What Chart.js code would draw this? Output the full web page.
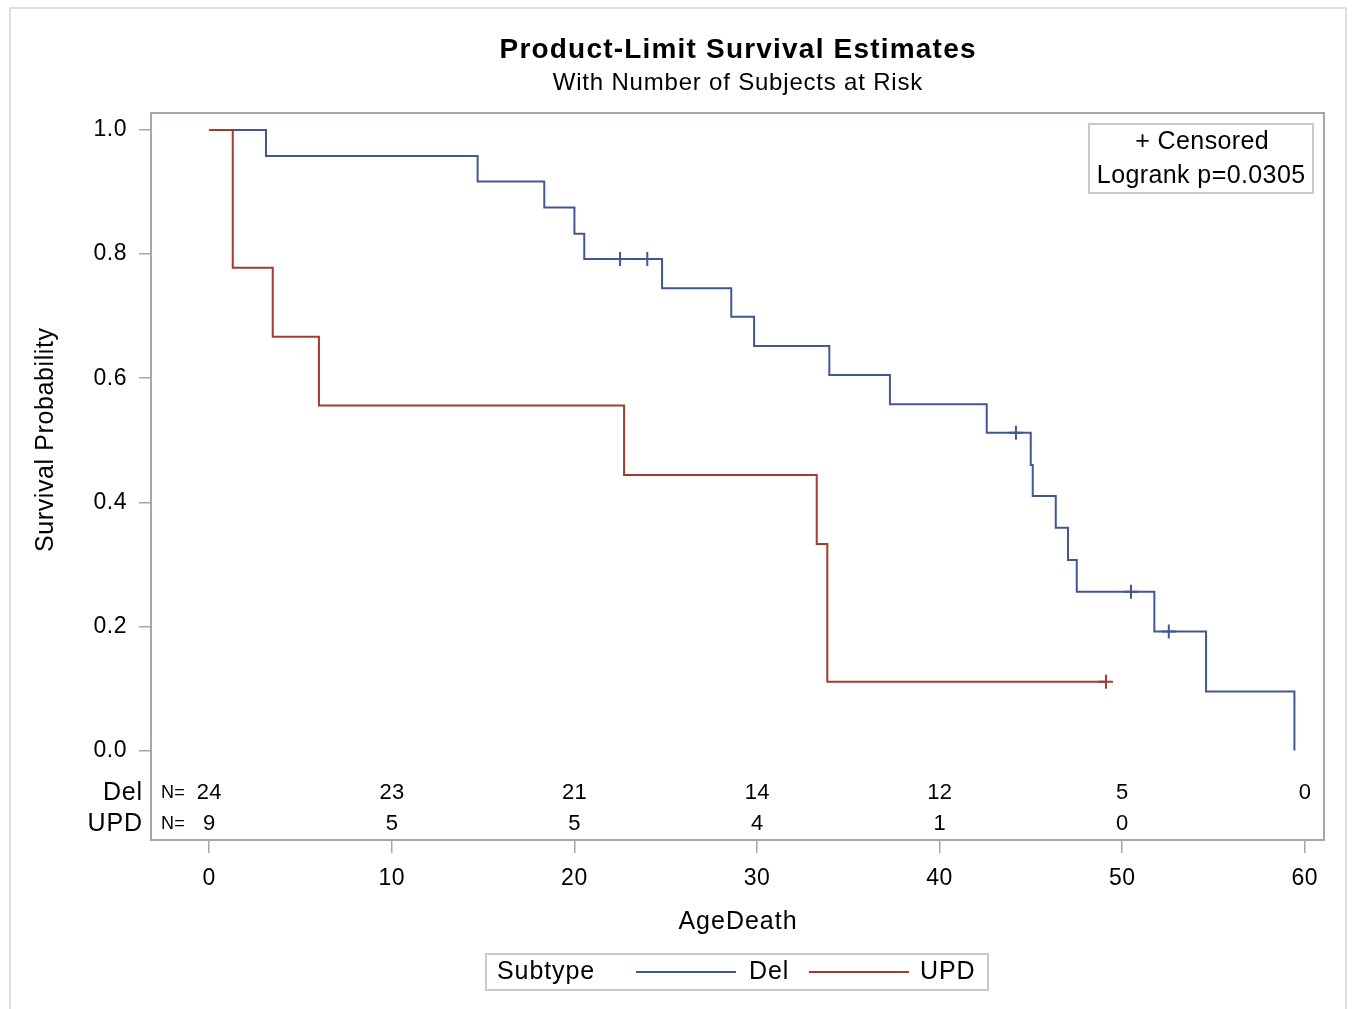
<!DOCTYPE html>
<html>
<head>
<meta charset="utf-8">
<script src="https://cdn.jsdelivr.net/npm/chart.js@4/dist/chart.umd.min.js"></script>
<style>
html,body{margin:0;padding:0;background:#fff;}
canvas{display:block;}
</style>
</head>
<body>
<canvas id="c" width="1352" height="1009"></canvas>
<script>
// ---- Data ----
const delTimes = [0, 3.11, 14.70, 18.35, 20.00, 20.54, 24.80, 28.59, 29.84, 33.96, 37.28, 42.58, 44.99, 45.10, 46.36, 47.03, 47.51, 51.76, 54.59, 59.43];
const delSurv  = [1, 0.958, 0.917, 0.875, 0.833, 0.792, 0.745, 0.699, 0.652, 0.605, 0.558, 0.512, 0.460, 0.410, 0.359, 0.307, 0.256, 0.192, 0.095, 0];
const delCensorTimes = [22.50, 23.99, 44.18, 50.48, 52.55];
const delCensorSurv  = [0.792, 0.792, 0.512, 0.256, 0.192];

const updTimes = [0, 1.29, 3.48, 6.01, 22.72, 33.27, 33.85, 49.11];
const updSurv  = [1, 0.778, 0.667, 0.556, 0.444, 0.333, 0.111, 0.111];
const updCensorTimes = [49.11];
const updCensorSurv  = [0.111];

const xTickValues = [0, 10, 20, 30, 40, 50, 60];
const yTickValues = [0, 0.2, 0.4, 0.6, 0.8, 1.0];

const riskTimes  = [0, 10, 20, 30, 40, 50, 60];
const delAtRisk  = [24, 23, 21, 14, 12, 5, 0];
const updAtRisk  = [9, 5, 5, 4, 1, 0];

const groupNames = ['Del', 'UPD'];
const titleText = 'Product-Limit Survival Estimates';
const subtitleText = 'With Number of Subjects at Risk';
const xTitle = 'AgeDeath';
const yTitle = 'Survival Probability';
const legendTitle = 'Subtype';
const insetLines = ['+ Censored', 'Logrank p=0.0305'];

// ---- Styles ----
const FONT = '"Liberation Sans", Arial, Helvetica, sans-serif';
const BLUE = '#445694';
const RED = '#A23A2E';
const AXIS_GRAY = '#a3a7ab';
const BOX_GRAY = '#c9c9c9';

function drawText(ctx, s, x, y, o) {
  o = Object.assign({size: 23, weight: 'normal', align: 'center', spacing: 1.0, rotate: 0, color: '#000'}, o || {});
  ctx.save();
  ctx.font = o.weight + ' ' + o.size + 'px ' + FONT;
  if ('letterSpacing' in ctx) ctx.letterSpacing = o.spacing + 'px';
  ctx.textAlign = o.align;
  ctx.textBaseline = 'middle';
  ctx.fillStyle = o.color;
  ctx.translate(x, y);
  if (o.rotate) ctx.rotate(o.rotate);
  let dx = 0;
  if ('letterSpacing' in ctx) {
    if (o.align === 'center') dx = o.spacing / 2;
    else if (o.align === 'right') dx = o.spacing;
  }
  ctx.fillText(s, dx, 0);
  ctx.restore();
}

const decorPlugin = {
  id: 'decor',
  beforeDraw(chart) {
    const ctx = chart.ctx;
    if ('letterSpacing' in ctx) ctx.letterSpacing = '0.5px';
    ctx.save();
    ctx.strokeStyle = '#d4d4d4';
    ctx.lineWidth = 1.5;
    ctx.strokeRect(10, 8, 1336, 1010);
    ctx.restore();
  },
  afterDraw(chart) {
    const ctx = chart.ctx;
    const a = chart.chartArea;
    const xs = chart.scales.x;
    const cx = (a.left + a.right) / 2;

    // plot frame
    ctx.save();
    ctx.strokeStyle = AXIS_GRAY;
    ctx.lineWidth = 2;
    ctx.strokeRect(a.left, a.top, a.right - a.left, a.bottom - a.top);
    ctx.restore();

    // titles
    drawText(ctx, titleText, cx, 50, {size: 28, weight: 'bold', spacing: 1.2});
    drawText(ctx, subtitleText, cx, 83, {size: 24, spacing: 0.8});

    // axis titles
    drawText(ctx, yTitle, 46, 440, {size: 25, spacing: 0.6, rotate: -Math.PI / 2});
    drawText(ctx, xTitle, cx, 922, {size: 25, spacing: 1.0});

    // at-risk table
    const rowDel = a.bottom - 47;
    const rowUpd = a.bottom - 16;
    drawText(ctx, groupNames[0], 142, rowDel, {size: 25, align: 'right', spacing: 0.8});
    drawText(ctx, groupNames[1], 142, rowUpd, {size: 25, align: 'right', spacing: 0.8});
    drawText(ctx, 'N=', 161, rowDel, {size: 18, align: 'left', spacing: 0.3});
    drawText(ctx, 'N=', 161, rowUpd, {size: 18, align: 'left', spacing: 0.3});
    delAtRisk.forEach((n, i) => {
      drawText(ctx, String(n), xs.getPixelForValue(riskTimes[i]), rowDel, {size: 22, spacing: 0.3});
    });
    updAtRisk.forEach((n, i) => {
      drawText(ctx, String(n), xs.getPixelForValue(riskTimes[i]), rowUpd, {size: 22, spacing: 0.3});
    });

    // inset box
    ctx.save();
    ctx.strokeStyle = BOX_GRAY;
    ctx.lineWidth = 2;
    ctx.strokeRect(1089, 124, 224, 69);
    ctx.restore();
    drawText(ctx, insetLines[0], 1202, 142, {size: 25, spacing: 0.4});
    drawText(ctx, insetLines[1], 1201, 176, {size: 25, spacing: 0.4});

    // legend
    ctx.save();
    ctx.strokeStyle = BOX_GRAY;
    ctx.lineWidth = 2;
    ctx.strokeRect(486, 954, 502, 36);
    ctx.strokeStyle = BLUE;
    ctx.beginPath(); ctx.moveTo(636, 972); ctx.lineTo(736, 972); ctx.stroke();
    ctx.strokeStyle = RED;
    ctx.beginPath(); ctx.moveTo(809, 972); ctx.lineTo(909, 972); ctx.stroke();
    ctx.restore();
    drawText(ctx, legendTitle, 497, 972, {size: 25, align: 'left', spacing: 0.9});
    drawText(ctx, groupNames[0], 749, 972, {size: 25, align: 'left', spacing: 0.9});
    drawText(ctx, groupNames[1], 920, 972, {size: 25, align: 'left', spacing: 0.9});
  }
};

const toXY = (ts, vs) => ts.map((t, i) => ({x: t, y: vs[i]}));

new Chart(document.getElementById('c'), {
  type: 'line',
  data: {
    datasets: [
      {
        label: groupNames[1] + ' censored',
        data: toXY(updCensorTimes, updCensorSurv),
        showLine: false,
        pointStyle: 'cross',
        pointRadius: 7,
        pointBorderWidth: 2,
        borderColor: RED,
        backgroundColor: RED,
        order: 0
      },
      {
        label: groupNames[0] + ' censored',
        data: toXY(delCensorTimes, delCensorSurv),
        showLine: false,
        pointStyle: 'cross',
        pointRadius: 7,
        pointBorderWidth: 2,
        borderColor: BLUE,
        backgroundColor: BLUE,
        order: 1
      },
      {
        label: groupNames[1],
        data: toXY(updTimes, updSurv),
        stepped: true,
        borderColor: RED,
        borderWidth: 2,
        pointRadius: 0,
        fill: false,
        order: 2
      },
      {
        label: groupNames[0],
        data: toXY(delTimes, delSurv),
        stepped: true,
        borderColor: BLUE,
        borderWidth: 2,
        pointRadius: 0,
        fill: false,
        order: 3
      }
    ]
  },
  options: {
    responsive: false,
    animation: false,
    devicePixelRatio: 1,
    layout: {padding: {top: 113, right: 28, left: 0, bottom: 0}},
    plugins: {legend: {display: false}, title: {display: false}, tooltip: {enabled: false}},
    scales: {
      x: {
        type: 'linear',
        min: -3.187,
        max: 61.05,
        afterBuildTicks: s => { s.ticks = xTickValues.map(v => ({value: v})); },
        afterFit: s => { s.height = 169; },
        ticks: {
          font: {family: FONT, size: 23},
          color: '#000',
          padding: 12,
          maxRotation: 0,
          autoSkip: false,
          callback: v => String(v)
        },
        grid: {drawOnChartArea: false, drawTicks: true, tickLength: 13, color: AXIS_GRAY, lineWidth: 1.5},
        border: {display: false}
      },
      y: {
        type: 'linear',
        min: -0.1442,
        max: 1.0274,
        afterBuildTicks: s => { s.ticks = yTickValues.map(v => ({value: v})); },
        afterFit: s => { s.width = 151; },
        ticks: {
          font: {family: FONT, size: 23},
          color: '#000',
          padding: 12,
          autoSkip: false,
          callback: v => Number(v).toFixed(1)
        },
        grid: {drawOnChartArea: false, drawTicks: true, tickLength: 12, color: AXIS_GRAY, lineWidth: 1.5},
        border: {display: false}
      }
    }
  },
  plugins: [decorPlugin]
});
</script>
</body>
</html>
